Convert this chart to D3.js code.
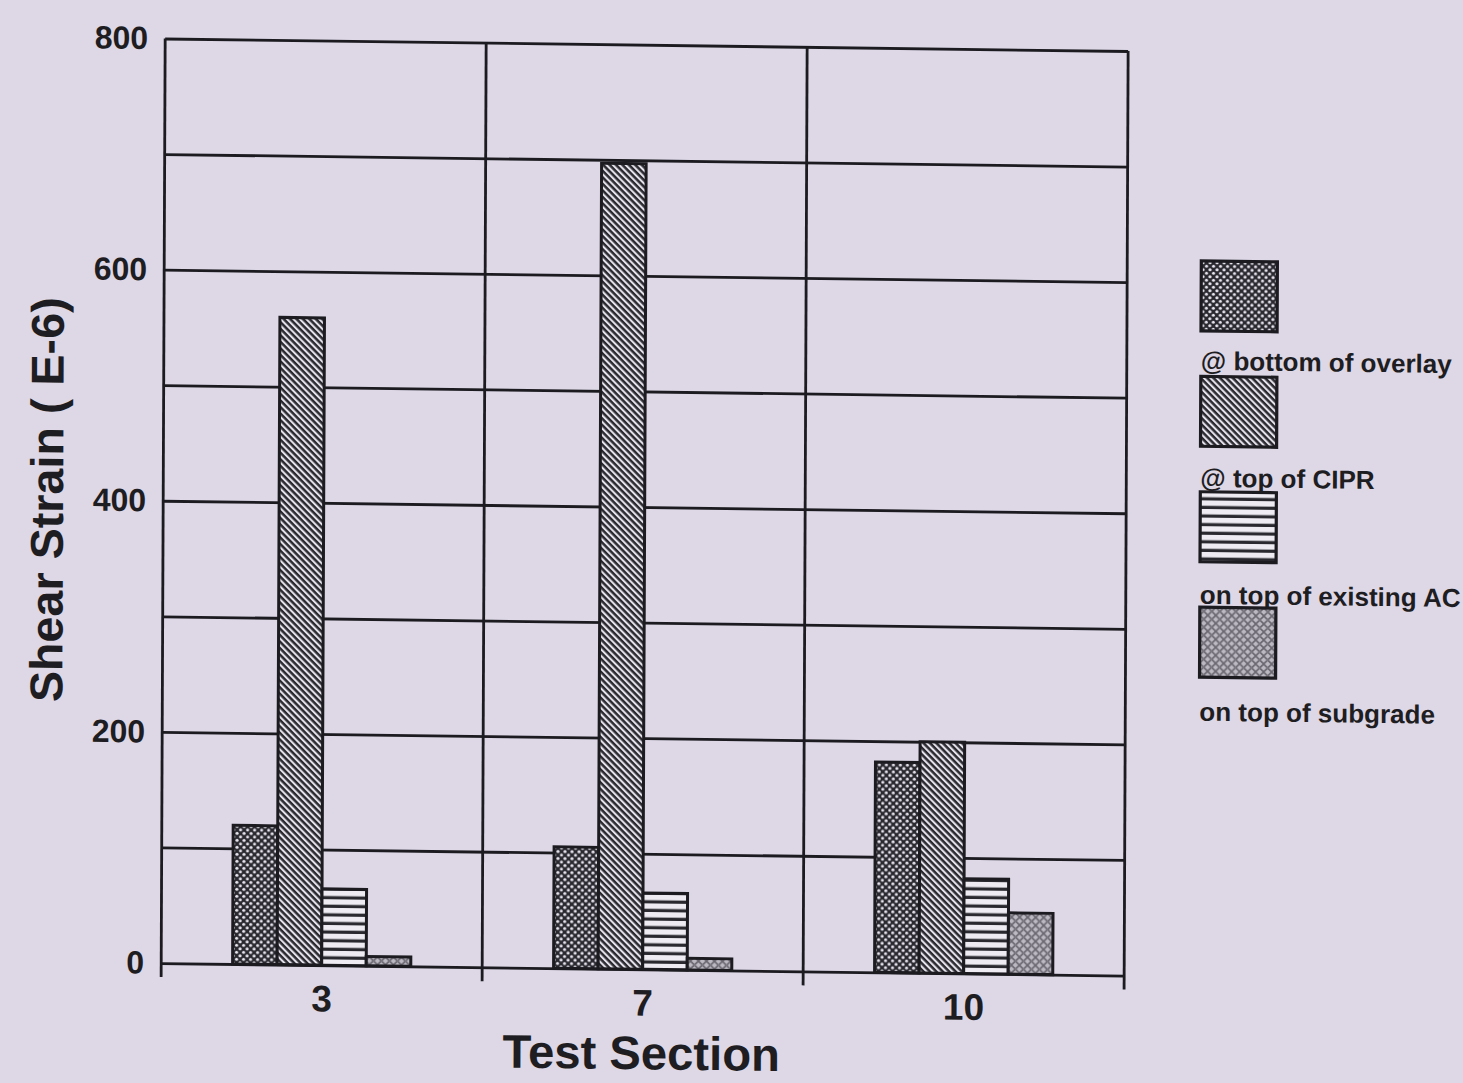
<!DOCTYPE html>
<html>
<head>
<meta charset="utf-8">
<script src="https://cdn.jsdelivr.net/npm/d3@7"></script>
<style>
  html, body { margin: 0; padding: 0; background: #ddd7e6; }
  svg { display: block; }
  text { font-family: "Liberation Sans", Arial, sans-serif; font-weight: bold; fill: #1e1d22; }
</style>
</head>
<body>
<svg id="chart" width="1463" height="1083"></svg>
<script>
// Test sections on the x axis
const sections = ["3", "7", "10"];
// Legend entries, one per depth
const seriesNames = ["@ bottom of overlay", "@ top of CIPR", "on top of existing AC", "on top of subgrade"];
// Shear strain (E-6) per section, one array per depth
const bottomOfOverlay = [120, 105, 182];
const topOfCIPR = [560, 697, 200];
const topOfExistingAC = [66, 66, 82];
const topOfSubgrade = [8, 10, 53];
// Axis ticks
const yTickLabels = [0, 200, 400, 600, 800];
const yGridValues = [0, 100, 200, 300, 400, 500, 600, 700, 800];

const seriesValues = [bottomOfOverlay, topOfCIPR, topOfExistingAC, topOfSubgrade];
const patternIds = ["pat-dots", "pat-diag", "pat-horiz", "pat-mottle"];

const ink = "#1c1b20";
const svg = d3.select("#chart");

// ---- fill patterns ----
const defs = svg.append("defs");

// dark ground with light dots
const pDots = defs.append("pattern").attr("id", "pat-dots")
  .attr("patternUnits", "userSpaceOnUse").attr("width", 7).attr("height", 7);
pDots.append("rect").attr("width", 7).attr("height", 7).attr("fill", "#2a2930");
pDots.append("circle").attr("cx", 1.75).attr("cy", 1.75).attr("r", 1.55).attr("fill", "#e8e4ee");
pDots.append("circle").attr("cx", 5.25).attr("cy", 5.25).attr("r", 1.55).attr("fill", "#e8e4ee");

// diagonal stripes running down to the right
const pDiag = defs.append("pattern").attr("id", "pat-diag")
  .attr("patternUnits", "userSpaceOnUse").attr("width", 4.6).attr("height", 4.6)
  .attr("patternTransform", "rotate(45)");
pDiag.append("rect").attr("width", 4.6).attr("height", 4.6).attr("fill", "#e6e2ec");
pDiag.append("rect").attr("width", 4.6).attr("height", 2.5).attr("fill", "#2a2930");

// horizontal rules
const pHoriz = defs.append("pattern").attr("id", "pat-horiz")
  .attr("patternUnits", "userSpaceOnUse").attr("width", 10).attr("height", 8.6);
pHoriz.append("rect").attr("width", 10).attr("height", 8.6).attr("fill", "#eeebf2");
pHoriz.append("rect").attr("y", 5.4).attr("width", 10).attr("height", 3.2).attr("fill", "#2a2930");

// grey mottled cross-hatch
const pMottle = defs.append("pattern").attr("id", "pat-mottle")
  .attr("patternUnits", "userSpaceOnUse").attr("width", 8).attr("height", 8);
pMottle.append("rect").attr("width", 8).attr("height", 8).attr("fill", "#bdb9c3");
pMottle.append("path").attr("d", "M0,0 L8,8 M8,0 L0,8")
  .attr("stroke", "#6c6872").attr("stroke-width", 1.7).attr("fill", "none");
pMottle.append("circle").attr("cx", 4).attr("cy", 4).attr("r", 1.1).attr("fill", "#7d7983");

// whole drawing sits on a slightly skewed sheet
const g = svg.append("g")
  .attr("transform", "matrix(1.001,0.013,-0.0043,0.9995,2.2,-7.6)");

// ---- scales ----
const plotLeft = 163, plotRight = 1125, plotTop = 44, plotBottom = 969;
const x0 = d3.scaleBand().domain(sections).range([plotLeft, plotRight]).padding(0);
const groupWidth = 178;
const x1 = d3.scaleBand().domain(d3.range(seriesNames.length))
  .range([(x0.bandwidth() - groupWidth) / 2, (x0.bandwidth() + groupWidth) / 2]).padding(0);
const y = d3.scaleLinear().domain([0, 800]).range([plotBottom, plotTop]);

// ---- grid ----
const lineW = 2.8;
g.append("g")
  .attr("transform", `translate(${plotLeft},0)`)
  .call(d3.axisLeft(y).tickValues(yGridValues).tickSize(-(plotRight - plotLeft)).tickFormat(""))
  .call(a => a.select(".domain").remove())
  .call(a => a.selectAll("line").attr("stroke", ink).attr("stroke-width", lineW));

// vertical section dividers (plus frame sides), with ticks below the axis
const dividers = sections.map(s => x0(s)).concat([plotRight]);
g.append("g").selectAll("line").data(dividers).join("line")
  .attr("x1", d => d).attr("x2", d => d)
  .attr("y1", plotTop).attr("y2", plotBottom + 14)
  .attr("stroke", ink).attr("stroke-width", lineW);

// y tick labels
g.append("g")
  .attr("transform", `translate(${plotLeft},0)`)
  .call(d3.axisLeft(y).tickValues(yTickLabels).tickSize(0).tickPadding(17).tickFormat(d3.format("d")))
  .call(a => a.select(".domain").remove())
  .call(a => a.selectAll("text")
    .attr("font-size", 32).attr("font-family", "'Liberation Sans', Arial, sans-serif")
    .attr("font-weight", "bold").attr("fill", ink));

// ---- bars ----
const groups = g.append("g").selectAll("g").data(sections).join("g")
  .attr("transform", s => `translate(${x0(s)},0)`);
groups.selectAll("rect")
  .data((s, i) => seriesValues.map((vals, k) => ({ k, v: vals[i] })))
  .join("rect")
  .attr("x", d => x1(d.k))
  .attr("width", x1.bandwidth())
  .attr("y", d => y(d.v))
  .attr("height", d => y(0) - y(d.v))
  .attr("fill", d => `url(#${patternIds[d.k]})`)
  .attr("stroke", ink).attr("stroke-width", 3);

// x tick labels
g.append("g")
  .attr("transform", `translate(0,${plotBottom})`)
  .call(d3.axisBottom(x0).tickSize(0).tickPadding(20))
  .call(a => a.select(".domain").remove())
  .call(a => a.selectAll("text")
    .attr("font-size", 37).attr("font-family", "'Liberation Sans', Arial, sans-serif")
    .attr("font-weight", "bold").attr("fill", ink));

// ---- axis titles ----
g.append("text")
  .attr("x", 643).attr("y", 1069)
  .attr("text-anchor", "middle")
  .attr("font-size", 47)
  .attr("textLength", 277).attr("lengthAdjust", "spacingAndGlyphs")
  .text("Test Section");

g.append("text")
  .attr("transform", "translate(63,507) rotate(-90)")
  .attr("text-anchor", "middle")
  .attr("font-size", 46)
  .attr("textLength", 405).attr("lengthAdjust", "spacingAndGlyphs")
  .text("Shear Strain ( E-6)");

// ---- legend ----
const legend = g.append("g").attr("transform", "translate(1199,253)");
const item = legend.selectAll("g").data(seriesNames).join("g")
  .attr("transform", (d, i) => `translate(0,${i * 115.5})`);
item.append("rect")
  .attr("width", 76).attr("height", 70)
  .attr("fill", (d, i) => `url(#${patternIds[i]})`)
  .attr("stroke", ink).attr("stroke-width", 3.2);
item.append("text")
  .attr("x", 0).attr("y", (d, i) => 109 + i * 1.5)
  .attr("font-size", 26)
  .text(d => d);
</script>
</body>
</html>
